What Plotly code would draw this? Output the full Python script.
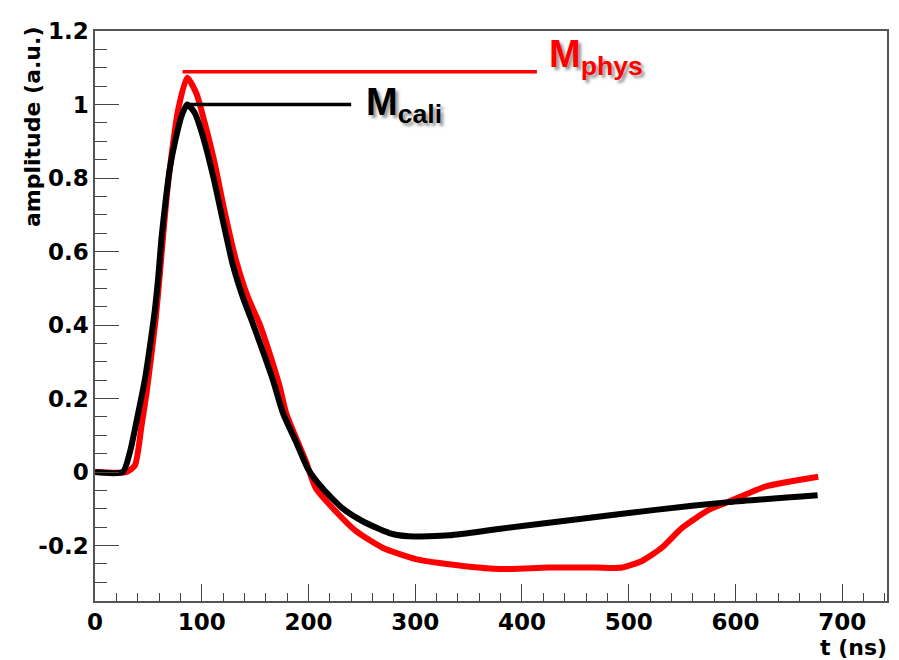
import plotly.graph_objects as go

# ---- data ----
t_cali = [0, 26, 32.7, 40.5, 46.7, 51.4, 56, 59.2, 62.3, 66.4, 70, 74.8, 81, 86.3, 93.5, 101,
          110.6, 120, 129, 138.6, 148, 157, 166.6, 176, 188.5, 199.4, 213.4, 232, 250.8, 275.7,
          294, 332, 378, 456, 525, 593.5, 677]
v_cali = [0, 0, 0.054, 0.161, 0.251, 0.341, 0.439, 0.529, 0.637, 0.744, 0.824, 0.896, 0.968, 1.0,
          0.977, 0.914, 0.806, 0.681, 0.565, 0.475, 0.403, 0.331, 0.251, 0.161, 0.081, 0.009,
          -0.045, -0.099, -0.134, -0.166, -0.175, -0.172, -0.155, -0.127, -0.103, -0.082, -0.063]

t_phys = [0, 29.6, 37.4, 43.6, 48.3, 53, 57, 60.7, 63.9, 67.6, 71.6, 77.9, 86.3, 95, 102.8, 112,
          121.5, 132.4, 143.3, 154.2, 163.6, 173, 179, 197.8, 207, 225.9, 244.6, 269.5, 300.6,
          331.8, 378.5, 425, 468.9, 493.8, 512.4, 531, 550, 575, 593.5, 627.7, 677.6]
v_phys = [0, 0, 0.018, 0.126, 0.215, 0.323, 0.421, 0.537, 0.645, 0.762, 0.86, 0.986, 1.073, 1.03,
          0.95, 0.842, 0.708, 0.573, 0.475, 0.403, 0.323, 0.233, 0.161, 0.027, -0.045, -0.108,
          -0.161, -0.206, -0.237, -0.251, -0.264, -0.26, -0.26, -0.26, -0.242, -0.206, -0.152,
          -0.103, -0.081, -0.040, -0.013]

# marker lines for the peak labels
phys_line_t = [82, 414]
phys_line_v = [1.089, 1.089]
cali_line_t = [86, 240]
cali_line_v = [1.0, 1.0]

x_range = [0, 742]
y_range = [-0.351, 1.2]
x_ticks = [0, 100, 200, 300, 400, 500, 600, 700]
y_ticks = [-0.2, 0, 0.2, 0.4, 0.6, 0.8, 1.0, 1.2]
y_ticktext = ["-0.2", "0", "0.2", "0.4", "0.6", "0.8", "1", "1.2"]

RED = "#ff0000"
BLACK = "#000000"
FONT = "Liberation Sans, Arial, sans-serif"
AXFONT = "DejaVu Sans, Liberation Sans, sans-serif"

fig = go.Figure()
fig.add_trace(go.Scatter(x=t_phys, y=v_phys, mode="lines",
                         line=dict(color=RED, width=6, shape="spline", smoothing=0.6),
                         showlegend=False, hoverinfo="skip"))
fig.add_trace(go.Scatter(x=t_cali, y=v_cali, mode="lines",
                         line=dict(color=BLACK, width=6, shape="spline", smoothing=0.6),
                         showlegend=False, hoverinfo="skip"))
fig.add_trace(go.Scatter(x=phys_line_t, y=phys_line_v, mode="lines",
                         line=dict(color=RED, width=3.5), showlegend=False, hoverinfo="skip"))
fig.add_trace(go.Scatter(x=cali_line_t, y=cali_line_v, mode="lines",
                         line=dict(color=BLACK, width=3.5), showlegend=False, hoverinfo="skip"))

shadow = "3px 3px 3px #999999"
fig.add_annotation(x=423, y=1.129, xref="x", yref="y", xanchor="left", yanchor="middle",
                   text="<b>M<sub>phys</sub></b>", showarrow=False, yshift=0,
                   font=dict(family=FONT, size=38, color=RED, shadow=shadow))
fig.add_annotation(x=252, y=1.0, xref="x", yref="y", xanchor="left", yanchor="middle",
                   text="<b>M<sub>cali</sub></b>", showarrow=False, yshift=0,
                   font=dict(family=FONT, size=38, color=BLACK, shadow=shadow))

# axis titles
fig.add_annotation(x=1, y=0, xref="paper", yref="paper", xanchor="right", yanchor="top",
                   text="<b>t (ns)</b>", showarrow=False, yshift=-32, xshift=2,
                   font=dict(family=AXFONT, size=22, color=BLACK))
fig.add_annotation(x=0, y=1, xref="paper", yref="paper", xanchor="center", yanchor="top",
                   text="<b>amplitude (a.u.)</b>", showarrow=False, textangle=-90,
                   xshift=-63, yshift=6,
                   font=dict(family=AXFONT, size=22, color=BLACK))

axis_common = dict(showgrid=False, zeroline=False, showline=True, linecolor="#555555",
                   linewidth=1.5, mirror=True, ticks="inside", tickcolor="#444444", tickwidth=1)

fig.update_xaxes(range=x_range, tickvals=x_ticks, ticklen=17,
                 tickfont=dict(family=AXFONT, size=23, color=BLACK, weight="bold"),
                 minor=dict(ticks="inside", dtick=20, ticklen=8, tickcolor="#444444"),
                 **axis_common)
fig.update_yaxes(range=y_range, tickvals=y_ticks, ticktext=y_ticktext, ticklen=24,
                 tickfont=dict(family=AXFONT, size=23, color=BLACK, weight="bold"),
                 minor=dict(ticks="inside", dtick=0.05, tick0=0, ticklen=12, tickcolor="#444444"),
                 **axis_common)

# the page body has an 8px default margin, so the figure is sized to fit the window
fig.update_layout(width=891, height=652, margin=dict(l=87, r=10, t=15, b=59),
                  plot_bgcolor="white", paper_bgcolor="white", showlegend=False)

fig.write_html("out.html")
